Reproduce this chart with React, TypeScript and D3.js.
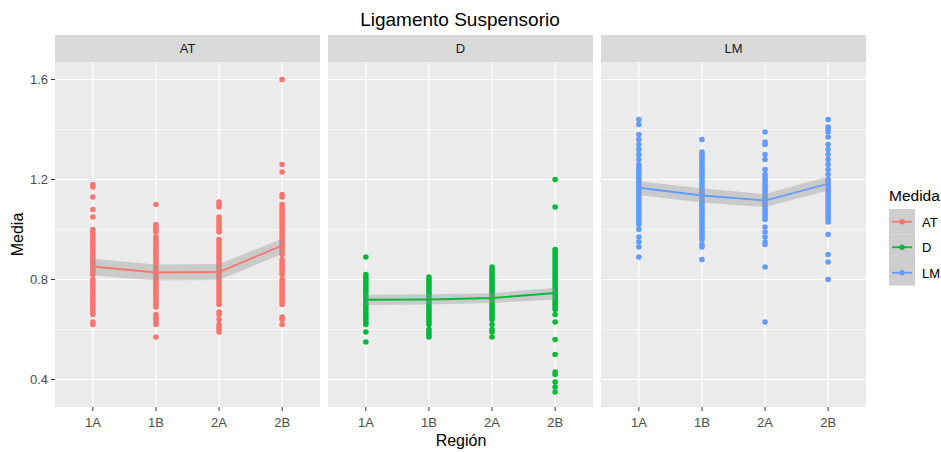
import React from "react";
import * as d3 from "d3";

// categories
const regions = ["1A", "1B", "2A", "2B"];
const measures = ["AT", "D", "LM"];
const colors = ["#F8766D", "#00BA38", "#619CFF"];
const yTicks = [0.4, 0.8, 1.2, 1.6];
const yMinor = [0.6, 1.0, 1.4];

// raw points, one array per region, per measure
const atPoints = [
  [1.18, 1.17, 1.13, 1.08, 1.05, 1.0, 0.99, 0.98, 0.97, 0.96, 0.95, 0.94, 0.93, 0.92, 0.91, 0.9, 0.89, 0.88, 0.87, 0.86, 0.85, 0.84, 0.83, 0.82, 0.8, 0.79, 0.78, 0.77, 0.76, 0.75, 0.74, 0.73, 0.72, 0.71, 0.7, 0.69, 0.68, 0.67, 0.66, 0.63, 0.62],
  [1.1, 1.02, 1.01, 1.0, 0.99, 0.97, 0.96, 0.95, 0.94, 0.93, 0.92, 0.91, 0.9, 0.89, 0.88, 0.87, 0.86, 0.85, 0.84, 0.83, 0.82, 0.81, 0.8, 0.79, 0.78, 0.77, 0.76, 0.75, 0.74, 0.73, 0.72, 0.71, 0.7, 0.69, 0.66, 0.65, 0.64, 0.63, 0.62, 0.57],
  [1.11, 1.1, 1.09, 1.05, 1.04, 1.03, 1.02, 1.01, 1.0, 0.99, 0.96, 0.95, 0.94, 0.93, 0.92, 0.91, 0.9, 0.89, 0.88, 0.87, 0.86, 0.85, 0.84, 0.83, 0.82, 0.81, 0.8, 0.79, 0.78, 0.77, 0.76, 0.75, 0.74, 0.73, 0.72, 0.71, 0.7, 0.67, 0.66, 0.64, 0.62, 0.61, 0.6, 0.59],
  [1.6, 1.26, 1.23, 1.14, 1.13, 1.1, 1.09, 1.08, 1.07, 1.06, 1.05, 1.04, 1.03, 1.02, 1.01, 1.0, 0.99, 0.98, 0.97, 0.96, 0.95, 0.94, 0.93, 0.92, 0.91, 0.9, 0.88, 0.87, 0.86, 0.85, 0.84, 0.83, 0.82, 0.8, 0.79, 0.78, 0.77, 0.76, 0.75, 0.74, 0.73, 0.72, 0.71, 0.7, 0.65, 0.64, 0.62],
];
const dPoints = [
  [0.89, 0.82, 0.81, 0.8, 0.79, 0.78, 0.77, 0.76, 0.75, 0.74, 0.73, 0.72, 0.71, 0.7, 0.69, 0.68, 0.67, 0.66, 0.65, 0.64, 0.63, 0.62, 0.59, 0.55],
  [0.81, 0.8, 0.79, 0.78, 0.77, 0.76, 0.75, 0.74, 0.73, 0.72, 0.71, 0.7, 0.69, 0.68, 0.67, 0.66, 0.65, 0.64, 0.63, 0.62, 0.6, 0.59, 0.58, 0.57],
  [0.85, 0.84, 0.83, 0.82, 0.81, 0.8, 0.79, 0.78, 0.77, 0.76, 0.75, 0.74, 0.73, 0.72, 0.71, 0.7, 0.69, 0.68, 0.67, 0.66, 0.65, 0.64, 0.62, 0.6, 0.59, 0.57],
  [1.2, 1.09, 0.92, 0.91, 0.9, 0.89, 0.88, 0.87, 0.86, 0.85, 0.84, 0.83, 0.82, 0.81, 0.8, 0.79, 0.78, 0.77, 0.76, 0.75, 0.74, 0.73, 0.72, 0.71, 0.7, 0.69, 0.68, 0.66, 0.63, 0.56, 0.5, 0.43, 0.42, 0.39, 0.37, 0.35],
];
const lmPoints = [
  [1.44, 1.42, 1.38, 1.36, 1.34, 1.32, 1.3, 1.28, 1.26, 1.25, 1.24, 1.23, 1.22, 1.21, 1.2, 1.19, 1.18, 1.17, 1.16, 1.15, 1.14, 1.13, 1.12, 1.11, 1.1, 1.09, 1.08, 1.07, 1.06, 1.05, 1.04, 1.03, 1.02, 1.0, 0.97, 0.95, 0.93, 0.89],
  [1.36, 1.31, 1.3, 1.29, 1.28, 1.27, 1.26, 1.25, 1.24, 1.23, 1.22, 1.21, 1.2, 1.19, 1.18, 1.17, 1.16, 1.15, 1.14, 1.13, 1.12, 1.11, 1.1, 1.09, 1.08, 1.07, 1.06, 1.05, 1.04, 1.03, 1.02, 1.01, 1.0, 0.99, 0.98, 0.97, 0.96, 0.94, 0.93, 0.88],
  [1.39, 1.35, 1.34, 1.3, 1.28, 1.24, 1.22, 1.21, 1.2, 1.19, 1.18, 1.17, 1.16, 1.15, 1.14, 1.13, 1.12, 1.11, 1.1, 1.09, 1.08, 1.07, 1.06, 1.05, 1.04, 1.01, 0.99, 0.97, 0.95, 0.94, 0.85, 0.63],
  [1.44, 1.41, 1.4, 1.39, 1.37, 1.34, 1.32, 1.3, 1.28, 1.26, 1.24, 1.22, 1.2, 1.19, 1.18, 1.17, 1.16, 1.15, 1.14, 1.13, 1.12, 1.11, 1.1, 1.09, 1.08, 1.07, 1.06, 1.05, 1.04, 1.03, 0.98, 0.9, 0.87, 0.8],
];

// mean line and confidence band per region
const atMean = [0.852, 0.828, 0.83, 0.936];
const atLow = [0.816, 0.796, 0.798, 0.903];
const atHigh = [0.883, 0.86, 0.862, 0.963];
const dMean = [0.719, 0.72, 0.726, 0.746];
const dLow = [0.698, 0.7, 0.706, 0.72];
const dHigh = [0.739, 0.741, 0.745, 0.767];
const lmMean = [1.167, 1.136, 1.116, 1.183];
const lmLow = [1.138, 1.108, 1.09, 1.156];
const lmHigh = [1.193, 1.165, 1.142, 1.212];

const allPoints = [atPoints, dPoints, lmPoints];
const allMean = [atMean, dMean, lmMean];
const allLow = [atLow, dLow, lmLow];
const allHigh = [atHigh, dHigh, lmHigh];

const W = 941;
const H = 452;
const panelTop = 62;
const panelBottom = 407;
const stripH = 27;
const panelLeft = 55;
const panelW = 265;
const gap = 8;
const font = "'Liberation Sans', Arial, sans-serif";

const App = () => {
  const y = d3.scaleLinear().domain([0.29, 1.67]).range([panelBottom, panelTop]);
  const x = d3.scalePoint<string>().domain(regions).range([0, panelW]).padding(0.6);

  const line = d3
    .line<number>()
    .x((_, i) => x(regions[i]) as number)
    .y((d) => y(d));

  return (
    <svg
      width={W}
      height={H}
      style={{ position: "absolute", left: 0, top: 0, background: "#fff" }}
      fontFamily={font}
    >
      <text x={460} y={26} textAnchor="middle" fontSize={19} fill="#000">
        Ligamento Suspensorio
      </text>

      {measures.map((m, k) => {
        const ox = panelLeft + k * (panelW + gap);
        const area = d3
          .area<number>()
          .x((_, i) => x(regions[i]) as number)
          .y0((_, i) => y(allLow[k][i]))
          .y1((d) => y(d));
        return (
          <g key={m} transform={`translate(${ox},0)`}>
            {/* strip */}
            <rect x={0} y={panelTop - stripH} width={panelW} height={stripH} fill="#D9D9D9" />
            <text x={panelW / 2} y={panelTop - stripH / 2 + 4.5} textAnchor="middle" fontSize={13} fill="#1A1A1A">
              {m}
            </text>
            {/* panel */}
            <rect x={0} y={panelTop} width={panelW} height={panelBottom - panelTop} fill="#EBEBEB" />
            {yMinor.map((t) => (
              <line key={t} x1={0} x2={panelW} y1={y(t)} y2={y(t)} stroke="#fff" strokeWidth={0.6} />
            ))}
            {yTicks.map((t) => (
              <line key={t} x1={0} x2={panelW} y1={y(t)} y2={y(t)} stroke="#fff" strokeWidth={1.2} />
            ))}
            {regions.map((r) => (
              <line key={r} x1={x(r)} x2={x(r)} y1={panelTop} y2={panelBottom} stroke="#fff" strokeWidth={1.2} />
            ))}
            {/* points */}
            {allPoints[k].map((vals, i) =>
              vals.map((v, j) => (
                <circle key={`${i}-${j}`} cx={x(regions[i])} cy={y(v)} r={2.8} fill={colors[k]} />
              ))
            )}
            {/* band + mean */}
            <path d={area(allHigh[k]) || ""} fill="#999999" fillOpacity={0.4} />
            <path d={line(allMean[k]) || ""} fill="none" stroke={colors[k]} strokeWidth={1.8} />
            {/* x axis */}
            {regions.map((r) => (
              <g key={r} transform={`translate(${x(r)},${panelBottom})`}>
                <line y2={4} stroke="#333" strokeWidth={1} />
                <text y={20} textAnchor="middle" fontSize={13} fill="#4D4D4D">
                  {r}
                </text>
              </g>
            ))}
          </g>
        );
      })}

      {/* y axis */}
      {yTicks.map((t) => (
        <g key={t} transform={`translate(${panelLeft},${y(t)})`}>
          <line x1={-4} x2={0} stroke="#333" strokeWidth={1} />
          <text x={-7} dy="0.36em" textAnchor="end" fontSize={13} fill="#4D4D4D">
            {t.toFixed(1)}
          </text>
        </g>
      ))}

      <text x={461} y={446} textAnchor="middle" fontSize={16} fill="#000">
        Región
      </text>
      <text
        transform={`translate(23,${(panelTop + panelBottom) / 2}) rotate(-90)`}
        textAnchor="middle"
        fontSize={16}
        fill="#000"
      >
        Media
      </text>

      {/* legend */}
      <g transform="translate(889,0)">
        <text x={0} y={201} fontSize={15.5} fill="#000">
          Medida
        </text>
        {measures.map((m, k) => {
          const ky = 209 + k * 25.5;
          return (
            <g key={m} transform={`translate(0,${ky})`}>
              <rect width={26} height={25.5} fill="#F2F2F2" />
              <rect width={26} height={25.5} fill="#999999" fillOpacity={0.4} />
              <line x1={3} x2={23} y1={12.75} y2={12.75} stroke={colors[k]} strokeWidth={1.8} />
              <circle cx={13} cy={12.75} r={2.8} fill={colors[k]} />
              <text x={33} y={17.5} fontSize={13} fill="#000">
                {m}
              </text>
            </g>
          );
        })}
      </g>
    </svg>
  );
};

export default App;
